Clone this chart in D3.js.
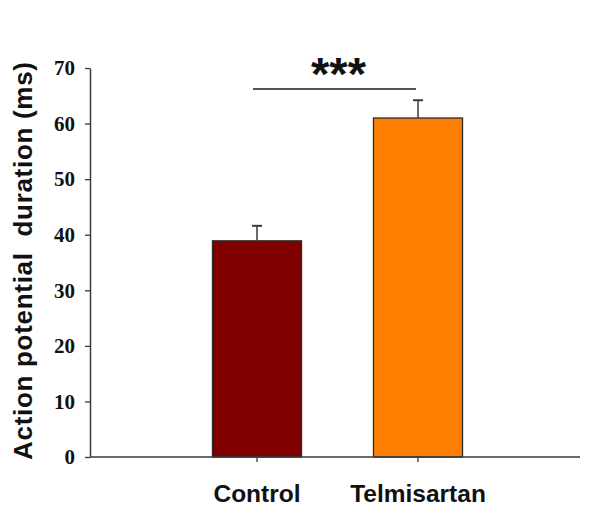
<!DOCTYPE html>
<html>
<head>
<meta charset="utf-8">
<script src="https://cdn.jsdelivr.net/npm/d3@7"></script>
<style>
  html, body { margin: 0; padding: 0; background: #fff; }
  svg { display: block; }
</style>
</head>
<body>
<svg id="chart" width="615" height="518"></svg>
<script>
// Mean action potential duration with SEM, per group
const categories = ["Control", "Telmisartan"];
const means = [38.9, 61.0];
const errors = [2.7, 3.2];
const yTicks = [0, 10, 20, 30, 40, 50, 60, 70];
const colors = ["#800000", "#ff8000"];
const significance = "***";

const svg = d3.select("#chart");
const plotLeft = 90, plotRight = 580, plotTop = 68, plotBottom = 457;

const y = d3.scaleLinear().domain([0, 70]).range([plotBottom, plotTop]);
const x = d3.scaleBand()
  .domain(categories)
  .range([176.5, 498.5])
  .paddingInner(0.447)
  .paddingOuter(0.2235);

const axisColor = "#3a3a3a";

// bars
svg.append("g").selectAll("rect")
  .data(categories)
  .join("rect")
  .attr("x", d => x(d))
  .attr("y", (d, i) => y(means[i]))
  .attr("width", x.bandwidth())
  .attr("height", (d, i) => y(0) - y(means[i]))
  .attr("fill", (d, i) => colors[i])
  .attr("stroke", "#2a2a2a")
  .attr("stroke-width", 1.3);

// upper error bars
const eb = svg.append("g").attr("stroke", "#3a3a3a").attr("stroke-width", 1.5);
categories.forEach((c, i) => {
  const cx = x(c) + x.bandwidth() / 2;
  eb.append("line")
    .attr("x1", cx).attr("x2", cx)
    .attr("y1", y(means[i])).attr("y2", y(means[i] + errors[i]));
  eb.append("line")
    .attr("x1", cx - 5).attr("x2", cx + 5)
    .attr("y1", y(means[i] + errors[i])).attr("y2", y(means[i] + errors[i]))
    .attr("stroke-width", 2);
});

// y axis
const yAxis = svg.append("g")
  .attr("transform", `translate(${plotLeft},0)`)
  .call(d3.axisLeft(y).tickValues(yTicks).tickSize(5).tickPadding(10).tickSizeOuter(0));
yAxis.select(".domain").attr("stroke", axisColor).attr("stroke-width", 1.5);
yAxis.selectAll(".tick line").attr("stroke", axisColor).attr("stroke-width", 1.3);
yAxis.selectAll(".tick text")
  .attr("fill", "#111")
  .style("font-family", "'Liberation Serif', 'Times New Roman', serif")
  .style("font-weight", "bold")
  .style("font-size", "21px");

// x axis
const xAxis = svg.append("g")
  .attr("transform", `translate(0,${plotBottom})`);
xAxis.append("line")
  .attr("x1", plotLeft).attr("x2", plotRight)
  .attr("stroke", axisColor).attr("stroke-width", 1.5);
xAxis.selectAll(".xtick")
  .data(categories)
  .join("line")
  .attr("x1", d => x(d) + x.bandwidth() / 2)
  .attr("x2", d => x(d) + x.bandwidth() / 2)
  .attr("y1", 0).attr("y2", 5)
  .attr("stroke", axisColor).attr("stroke-width", 1.3);
xAxis.selectAll(".xlabel")
  .data(categories)
  .join("text")
  .attr("x", d => x(d) + x.bandwidth() / 2)
  .attr("y", 45)
  .attr("text-anchor", "middle")
  .attr("fill", "#111")
  .style("font-family", "'Liberation Sans', Arial, sans-serif")
  .style("font-weight", "bold")
  .style("font-size", "24.5px")
  .text(d => d);

// y axis title
svg.append("text")
  .attr("transform", "translate(32,261) rotate(-90)")
  .attr("text-anchor", "middle")
  .attr("fill", "#111")
  .attr("textLength", 398)
  .attr("lengthAdjust", "spacing")
  .style("font-family", "'Liberation Sans', Arial, sans-serif")
  .style("font-weight", "bold")
  .style("font-size", "26px")
  .style("white-space", "pre")
  .text("Action potential  duration (ms)");

// significance bracket
const x1 = x(categories[0]) + x.bandwidth() / 2 - 4;
const x2 = x(categories[1]) + x.bandwidth() / 2 - 2;
svg.append("line")
  .attr("x1", x1).attr("x2", x2)
  .attr("y1", 89).attr("y2", 89)
  .attr("stroke", "#555").attr("stroke-width", 1.8);
svg.append("text")
  .attr("x", (x1 + x2) / 2 + 4)
  .attr("y", 90)
  .attr("text-anchor", "middle")
  .attr("fill", "#111")
  .style("font-family", "'Liberation Sans', Arial, sans-serif")
  .style("font-weight", "bold")
  .style("font-size", "47px")
  .text(significance);
</script>
</body>
</html>
